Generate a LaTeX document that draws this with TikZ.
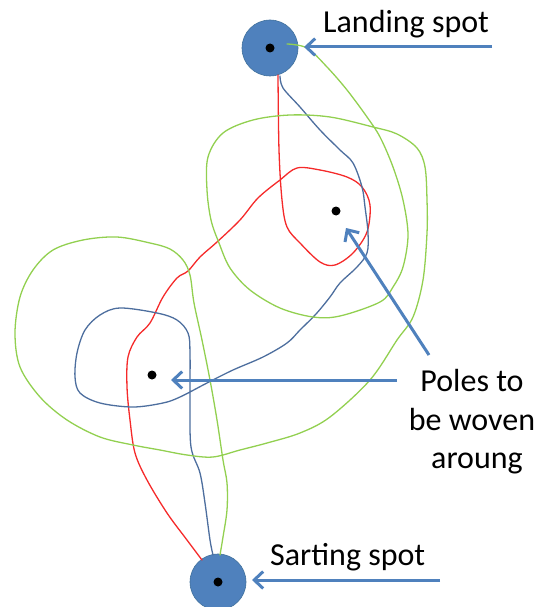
\documentclass[tikz,border=0pt]{standalone}
\usepackage{fontspec}
\setmainfont{Carlito}
\usetikzlibrary{arrows.meta}
\definecolor{spotblue}{HTML}{4F81BD}
\definecolor{spotedge}{HTML}{41719C}
\definecolor{pathred}{HTML}{F52A2A}
\definecolor{pathblue}{HTML}{4D6E9E}
\definecolor{pathgreen}{HTML}{92D050}
\tikzset{
  spot/.style={circle, fill=spotblue, draw=spotedge, line width=0.6pt, minimum size=56pt, inner sep=0pt},
  pole/.style={circle, fill=black, minimum size=9pt, inner sep=0pt},
  lbl/.style={font=\fontsize{32}{39}\selectfont, inner sep=0pt, text=black},
  pointer/.style={draw=spotblue, line width=3pt, -{Straight Barb[length=9pt, width=17pt, line width=3pt]}},
  weave/.style={line width=1.3pt, smooth, tension=0.55, line join=round, line cap=round}
}
\begin{document}
\begin{tikzpicture}[x=1pt,y=-1pt]
\useasboundingbox (0,0) rectangle (544,607);

% spots
\node[spot] (landing) at (270,48) {};
\node[spot] (start) at (218,582) {};

% curves
\draw[weave, pathred] plot coordinates {
  (202,560) (187,540) (167,513) (147,480) (135,453) (130,420) (127,387)
  (128,357) (137,337) (150,323) (163,297) (177,278) (188,271) (200,257)
  (217,242) (240,220) (258,198) (280,180) (297,168) (320,170) (347,177)
  (362,187) (370,205) (367,232) (353,253) (335,265) (320,262) (300,243)
  (287,227) (282,200) (279,150) (278,75)};

\draw[weave, pathblue] plot coordinates {
  (280,76) (283,88) (300,107) (320,130) (340,150) (353,163) (362,187)
  (365,207) (368,233) (367,253) (357,267) (340,283) (330,297) (316,314)
  (300,330) (287,343) (263,357) (233,370) (207,383) (180,397) (163,403)
  (133,407) (100,403) (80,393) (75,377) (77,353) (85,330) (100,315)
  (120,308) (157,313) (177,320) (188,333) (190,353) (190,403) (191,447)
  (200,473) (205,503) (210,540) (213,555)};

\draw[weave, pathgreen] plot coordinates {
  (287,44) (307,48) (327,67) (347,90) (367,117) (380,137) (393,167)
  (403,200) (408,235) (403,267) (393,287) (380,302) (340,316) (313,317)
  (280,308) (250,290) (230,268) (219,243) (211,220) (207,190) (208,157)
  (223,133) (253,120) (290,115) (330,117) (373,127) (397,134) (417,148)
  (425,167) (427,200) (427,233) (423,280) (413,317) (397,340) (370,380)
  (330,417) (300,433) (267,443) (240,450) (213,457) (187,455) (160,450)
  (133,445) (100,437) (67,420) (40,397) (20,367) (15,333) (20,297)
  (33,270) (53,250) (83,240) (117,237) (150,243) (170,249) (183,260)
  (190,275) (194,303) (202,340) (210,380) (217,420) (223,460) (227,483)
  (227,510) (223,537) (220,555)};

% pole dots
\node[pole] (dotland) at (270,48) {};
\node[pole] (dotstart) at (218,582) {};
\node[pole] (poleA) at (336,211) {};
\node[pole] (poleB) at (152,375) {};

% labels
\node[lbl, anchor=base west] (landtext) at (323,33) {Landing spot};
\node[lbl, anchor=base west] (starttext) at (270,565) {Sarting spot};
\node[lbl, anchor=base] (polesone) at (472,391) {Poles to};
\node[lbl, anchor=base] (polestwo) at (472,430) {be woven};
\node[lbl, anchor=base] (polesthree) at (477,468) {aroung};

% pointer arrows
\coordinate (landtail) at (492,47);
\coordinate (landtip) at (304,47);
\coordinate (starttail) at (440,580);
\coordinate (starttip) at (252,580);
\coordinate (diagtail) at (429,355);
\coordinate (diagtip) at (346,228);
\coordinate (horiztail) at (397,380);
\coordinate (horiztip) at (171,380);
\draw[pointer] (landtail) -- (landtip);
\draw[pointer] (starttail) -- (starttip);
\draw[pointer] (diagtail) -- (diagtip);
\draw[pointer] (horiztail) -- (horiztip);
\end{tikzpicture}
\end{document}
